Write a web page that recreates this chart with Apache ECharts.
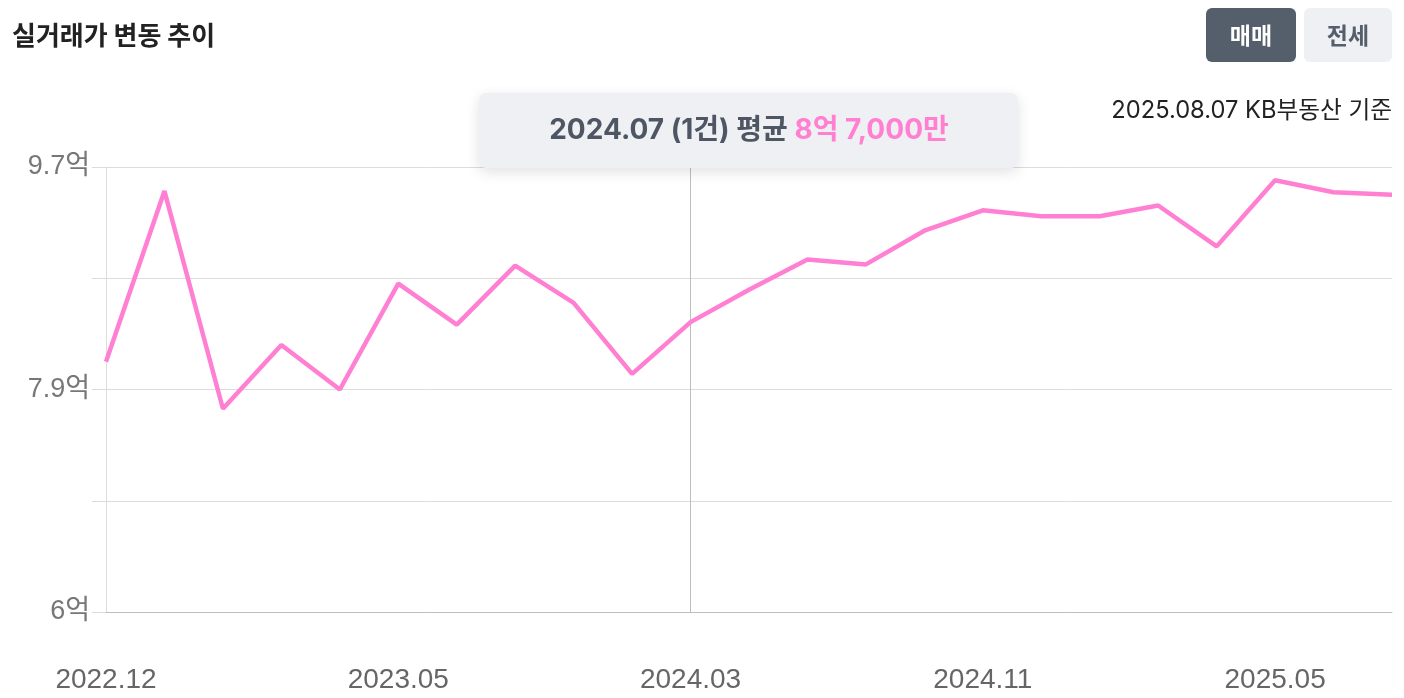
<!DOCTYPE html>
<html><head><meta charset="utf-8">
<script src="https://cdn.jsdelivr.net/npm/echarts@6/dist/echarts.min.js"></script>
<style>html,body{margin:0;padding:0;background:#fff}#c{width:1404px;height:698px}</style>
</head><body><div id="c"></div>
<script>
const categories = ['2022.12','2023.01','2023.02','2023.03','2023.04','2023.05','2023.07','2023.08','2023.10','2023.12','2024.03','2024.04','2024.06','2024.07','2024.09','2024.11','2024.12','2025.01','2025.02','2025.03','2025.05','2025.06','2025.07'];
const prices = [8.08,9.50,7.69,8.22,7.85,8.73,8.39,8.88,8.57,7.98,8.41,8.68,8.93,8.89,9.17,9.34,9.29,9.29,9.38,9.04,9.59,9.49,9.47];
const yTickLabels = ['6억','','7.9억','','9.7억'];
const yMin = 6, yMax = 9.7;
const markedCategory = '2024.03';
const titleText = '실거래가 변동 추이';
const sourceText = '2025.08.07 KB부동산 기준';
const tipDate = '2024.07 (1건) 평균 ';
const tipValue = '8억 7,000만';

const chart = echarts.init(document.getElementById('c'));
const GRID = '#dcdcdc';
chart.setOption({
  animation: false,
  grid: {left: 106, right: 12, top: 167, bottom: 86},
  xAxis: {
    type: 'category', data: categories, boundaryGap: false,
    axisLine: {lineStyle: {color: '#bdbdbd', width: 1}},
    axisTick: {show: false},
    axisLabel: {interval: 4, color: '#666', fontSize: 28, margin: 54, fontFamily: 'Liberation Sans, Arial, sans-serif'}
  },
  yAxis: [
    {type: 'value', min: yMin, max: yMax, position: 'left',
     axisLine: {show: true, lineStyle: {color: GRID}}, axisTick: {show: false},
     axisLabel: {show: false}, splitLine: {show: false}},
    {type: 'value', min: 0, max: 4, interval: 1, position: 'left',
     axisLine: {show: false},
     axisTick: {show: true, length: 14, lineStyle: {color: GRID}},
     axisLabel: {color: '#777', fontSize: 27, margin: 16, fontFamily: 'Liberation Sans, Arial, "Noto Sans CJK KR", sans-serif',
       formatter: (v) => yTickLabels[Math.round(v)] || ''},
     splitLine: {lineStyle: {color: GRID, width: 1}}}
  ],
  series: [{
    type: 'line', yAxisIndex: 0, data: prices, symbol: 'none',
    lineStyle: {color: '#ff80d2', width: 4.5}, z: 5,
    markLine: {silent: true, symbol: 'none', label: {show: false},
      lineStyle: {color: '#bdbdbd', type: 'solid', width: 1},
      data: [{xAxis: markedCategory}]}
  }],
  graphic: [
    {type: 'text', x: 12, y: 35, style: {text: titleText, fill: '#222', font: 'bold 26px "Noto Sans CJK KR", sans-serif', verticalAlign: 'middle'}},
    {type: 'rect', shape: {x: 1206, y: 8, width: 90, height: 54, r: 6}, style: {fill: '#555e6b'}},
    {type: 'text', x: 1251, y: 35, style: {text: '매매', fill: '#fff', font: 'bold 23px "Noto Sans CJK KR", sans-serif', align: 'center', verticalAlign: 'middle'}},
    {type: 'rect', shape: {x: 1304, y: 8, width: 88, height: 54, r: 6}, style: {fill: '#eff0f3'}},
    {type: 'text', x: 1348, y: 35, style: {text: '전세', fill: '#555e6b', font: 'bold 23px "Noto Sans CJK KR", sans-serif', align: 'center', verticalAlign: 'middle'}},
    {type: 'text', x: 1392, y: 111, style: {text: sourceText, fill: '#222', font: '23.7px Inter, "Noto Sans CJK KR", sans-serif', align: 'right', verticalAlign: 'middle'}},
    {type: 'rect', z: 100, shape: {x: 479, y: 93, width: 539, height: 75, r: 7},
     style: {fill: '#eff0f4', shadowBlur: 14, shadowColor: 'rgba(0,0,0,0.12)', shadowOffsetY: 4}},
    {type: 'text', z: 101, x: 749, y: 131, style: {
      text: '{a|' + tipDate + '}{b|' + tipValue + '}', align: 'center', verticalAlign: 'middle',
      rich: {a: {fill: '#4f5663', font: 'bold 28px Inter, "Noto Sans CJK KR", sans-serif'},
             b: {fill: '#ff7fd0', font: 'bold 28px Inter, "Noto Sans CJK KR", sans-serif'}}}}
  ]
});
</script></body></html>
